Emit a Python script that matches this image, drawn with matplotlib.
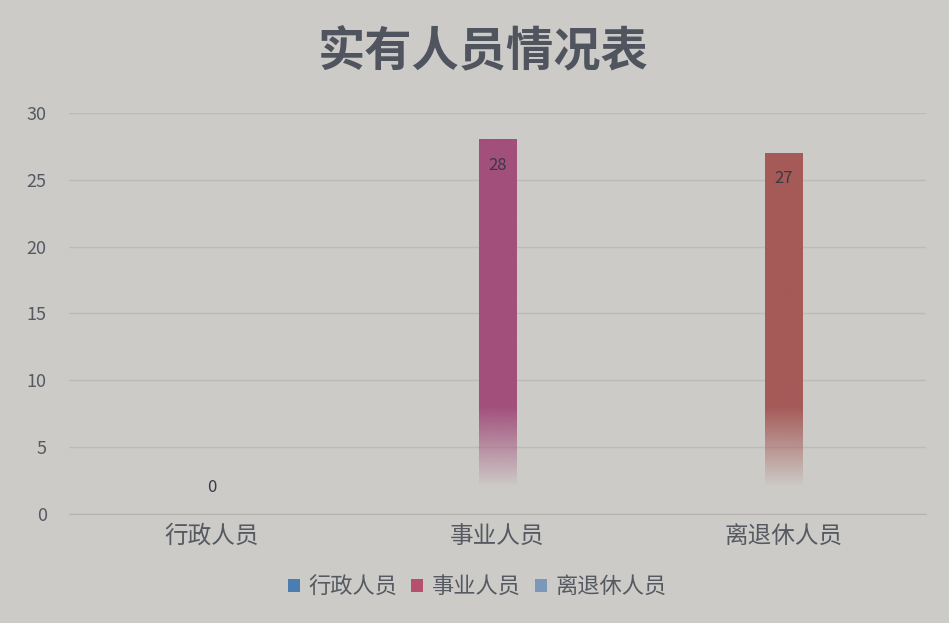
import matplotlib.pyplot as plt
import numpy as np
from matplotlib.patches import Patch
from matplotlib.colors import to_rgb

plt.rcParams['font.family'] = ['Noto Sans CJK SC', 'DejaVu Sans']

# datos del grafico
categorias = ['行政人员', '事业人员', '离退休人员']
valores = [0, 28, 27]
colores_barra = ['#4a7eb0', '#a24f7c', '#a55a58']
colores_leyenda = ['#4a7eb0', '#b5506e', '#7a98b8']

fondo = '#cdcbc7'
texto = '#555a62'

fig = plt.figure(figsize=(9.49, 6.23), dpi=100, facecolor=fondo)
ax = fig.add_axes([0.0727, 0.175, 0.903, 0.6437], facecolor=fondo)

x = np.arange(len(categorias))
ancho = 0.13

# barras con degradado: color lleno arriba, se desvanece hacia abajo
for xi, v, c in zip(x, valores, colores_barra):
    if v <= 0:
        continue
    ys = np.linspace(0, v, 300)
    alfa = np.clip((ys - 2.0) / 6.0, 0, 1)
    img = np.zeros((300, 1, 4))
    img[:, 0, :3] = to_rgb(c)
    img[:, 0, 3] = alfa
    ax.imshow(img, extent=[xi - ancho / 2, xi + ancho / 2, 0, v],
              origin='lower', aspect='auto', zorder=3, interpolation='bilinear')

# etiquetas de valor
for xi, v in zip(x, valores):
    if v > 0:
        ax.text(xi, v - 1.9, str(v), ha='center', va='center', fontsize=12,
                color='#3a3a44', zorder=4)
    else:
        ax.text(xi, v + 2.0, str(v), ha='center', va='center', fontsize=12,
                color='#3a3a44', zorder=4)

ax.set_xlim(-0.5, 2.5)
ax.set_ylim(0, 30)
ax.set_yticks(range(0, 31, 5))
ax.set_xticks(x)
ax.set_xticklabels(categorias, fontsize=17, color=texto)
ax.tick_params(axis='y', labelsize=13, labelcolor=texto, length=0, pad=16)
ax.tick_params(axis='x', length=0, pad=8)
ax.grid(axis='y', color='#bdbbb7', linewidth=1.0, zorder=0)
for s in ['top', 'right', 'left']:
    ax.spines[s].set_visible(False)
ax.spines['bottom'].set_color('#b5b3af')

fig.text(0.509, 0.918, '实有人员情况表', ha='center', va='center',
         fontsize=34, fontweight='bold', color='#50545e')

manijas = [Patch(facecolor=c, edgecolor='none') for c in colores_leyenda]
fig.legend(manijas, categorias, loc='center', bbox_to_anchor=(0.503, 0.058),
           ncol=3, frameon=False, fontsize=16, handlelength=0.55,
           handleheight=0.55, handletextpad=0.4, columnspacing=0.6,
           labelcolor=texto)

plt.savefig('out.png', dpi=100, facecolor=fondo)
